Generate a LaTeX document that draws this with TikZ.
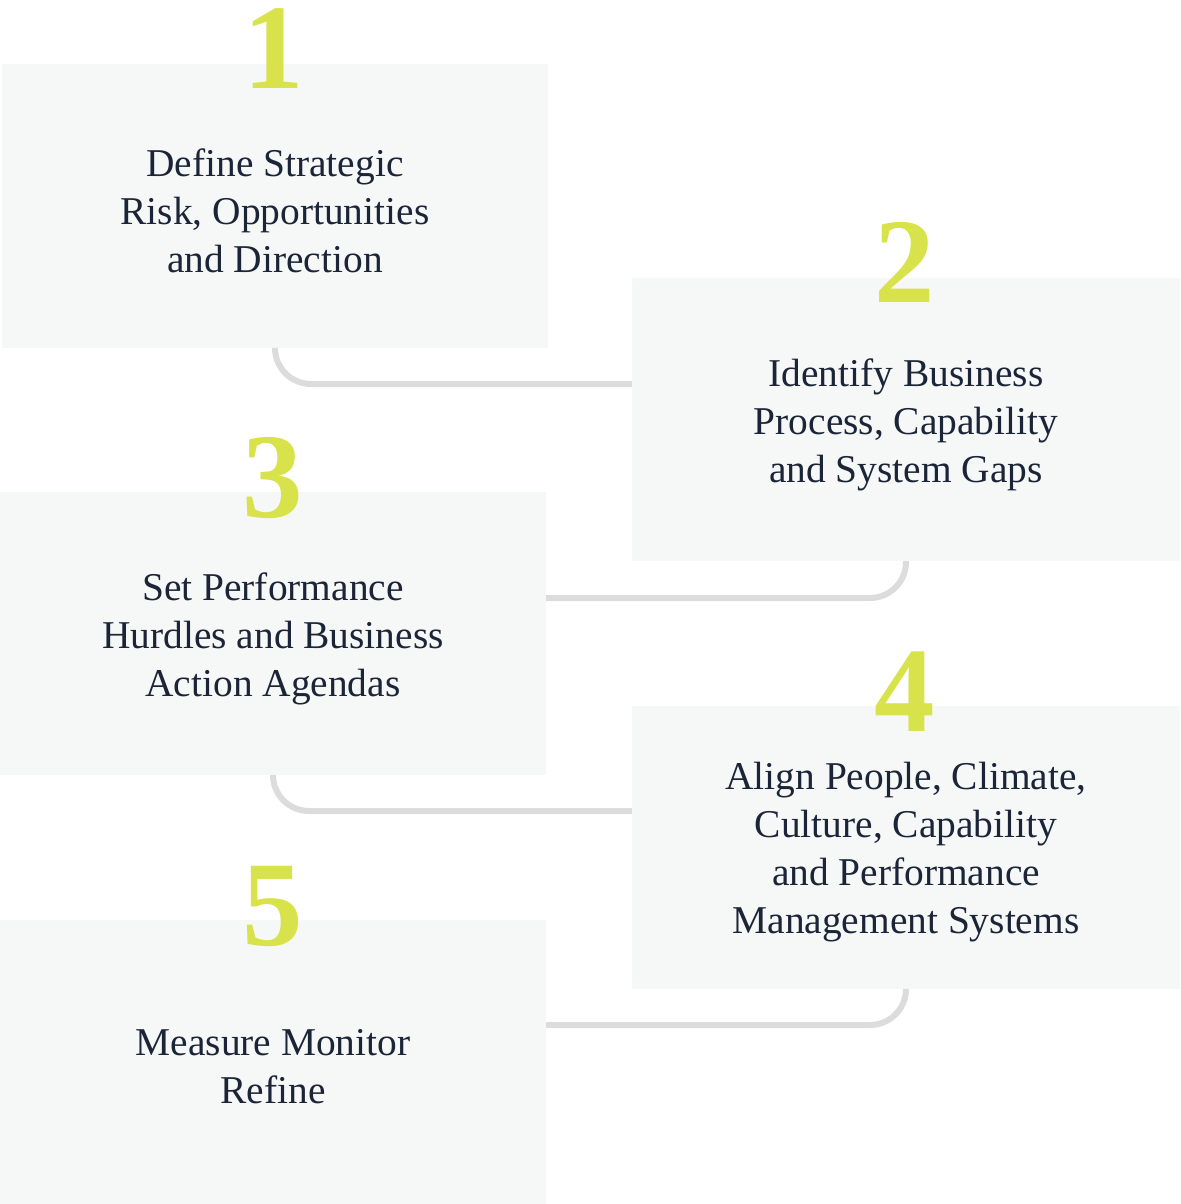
\documentclass[tikz,border=0pt]{standalone}
\usepackage{fontspec}
\setmainfont{Liberation Serif}
\definecolor{navy}{HTML}{1C2538}
\definecolor{lime}{HTML}{D8E24A}
\definecolor{boxfill}{HTML}{F6F8F7}
\definecolor{conngray}{HTML}{DCDCDC}
\begin{document}
\begin{tikzpicture}[x=1pt,y=1pt,
  stepbox/.style={fill=boxfill,draw=none,inner sep=0pt,minimum width=546pt,minimum height=284pt},
  steptext/.style={text=navy,align=center,inner sep=0pt,yshift=-5pt,font=\fontsize{39.4}{48}\selectfont},
  numlbl/.style={anchor=base,text=lime,inner sep=0pt,font=\fontsize{121}{121}\selectfont\bfseries},
  conn/.style={draw=conngray,line width=6pt,rounded corners=36pt}]
\useasboundingbox (0,0) rectangle (1180,-1204);
\node[stepbox] (b1) at (275,-206) {};
\node[stepbox,minimum width=548pt,minimum height=283pt] (b2) at (906,-419.5) {};
\node[stepbox,minimum height=283pt] (b3) at (273,-633.5) {};
\node[stepbox,minimum width=548pt,minimum height=283pt] (b4) at (906,-847.5) {};
\node[stepbox] (b5) at (273,-1062) {};
\node[steptext] (t1) at (b1.center) {Define Strategic\\Risk, Opportunities\\and Direction};
\node[steptext] (t2) at (b2.center) {Identify Business\\Process, Capability\\and System Gaps};
\node[steptext] (t3) at (b3.center) {Set Performance\\Hurdles and Business\\Action Agendas};
\node[steptext] (t4) at (b4.center) {Align People, Climate,\\Culture, Capability\\and Performance\\Management Systems};
\node[steptext] (t5) at (b5.center) {Measure Monitor\\Refine};
\node[numlbl] (n1) at (274,-89) {1};
\node[numlbl] (n2) at (905,-302) {2};
\node[numlbl] (n3) at (273,-517) {3};
\node[numlbl] (n4) at (905,-731) {4};
\node[numlbl] (n5) at (273,-945) {5};
\coordinate (h1) at (0,-384);
\coordinate (h2) at (0,-598);
\coordinate (h3) at (0,-811);
\coordinate (h4) at (0,-1025);
\draw[conn] (b1.south) |- (b2.west |- h1);
\draw[conn] (b2.south) |- (b3.east |- h2);
\draw[conn] (b3.south) |- (b4.west |- h3);
\draw[conn] (b4.south) |- (b5.east |- h4);
\end{tikzpicture}
\end{document}
